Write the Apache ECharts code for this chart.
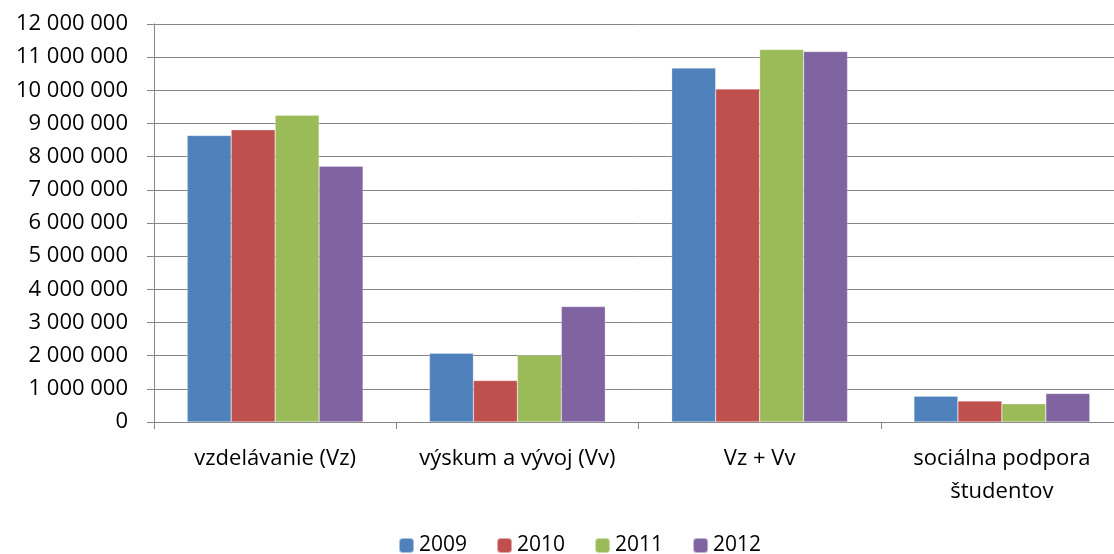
<!DOCTYPE html>
<html>
<head>
<meta charset="utf-8">
<script src="https://cdn.jsdelivr.net/npm/echarts@6/dist/echarts.min.js"></script>
<style>
  html, body {margin: 0; padding: 0; background: #fff; overflow: hidden;}
  #chart {width: 1123px; height: 554px;}
</style>
</head>
<body>
<div id="chart"></div>
<script>
const categories = ['vzdelávanie (Vz)', 'výskum a vývoj (Vv)', 'Vz + Vv', 'sociálna podpora\nštudentov']
const years = ['2009', '2010', '2011', '2012']
const colors = ['#4F81BD', '#C0504D', '#9BBB59', '#8064A2']
const v2009 = [8640000, 2070000, 10670000, 780000]
const v2010 = [8810000, 1250000, 10040000, 630000]
const v2011 = [9250000, 2010000, 11230000, 550000]
const v2012 = [7710000, 3480000, 11170000, 860000]

const font = '"Open Sans", sans-serif'
const myChart = echarts.init(document.getElementById('chart'))
myChart.setOption({
  animation: false,
  textStyle: {fontFamily: font},
  legend: {
    top: 530,
    left: 393,
    itemWidth: 15,
    itemHeight: 15,
    itemGap: 29,
    textStyle: {fontSize: 21, color: '#000', fontFamily: font},
    data: years
  },
  grid: {
    left: 154,
    top: 24,
    right: 0,
    bottom: 132
  },
  xAxis: {
    type: 'category',
    data: categories,
    axisLine: {lineStyle: {color: '#868686'}},
    axisTick: {show: true, length: 7, lineStyle: {color: '#868686'}},
    axisLabel: {interval: 0, fontSize: 22, color: '#000', margin: 20, lineHeight: 33, fontFamily: font}
  },
  yAxis: {
    type: 'value',
    min: 0,
    max: 12000000,
    interval: 1000000,
    axisLine: {show: true, lineStyle: {color: '#868686'}},
    axisTick: {show: true, length: 7, lineStyle: {color: '#868686'}},
    splitLine: {lineStyle: {color: '#868686', width: 1}},
    axisLabel: {
      fontSize: 22,
      color: '#000',
      margin: 26,
      fontFamily: font,
      formatter(val) {
        return String(val).replace(/\B(?=(\d{3})+(?!\d))/g, ' ')
      }
    }
  },
  series: [v2009, v2010, v2011, v2012].map((data, i) => ({
    name: years[i],
    type: 'bar',
    data,
    barGap: '0%',
    barCategoryGap: '27.4%',
    itemStyle: {color: colors[i], borderColor: 'rgba(255,255,255,0.5)', borderWidth: 0.5}
  }))
})
</script>
</body>
</html>
